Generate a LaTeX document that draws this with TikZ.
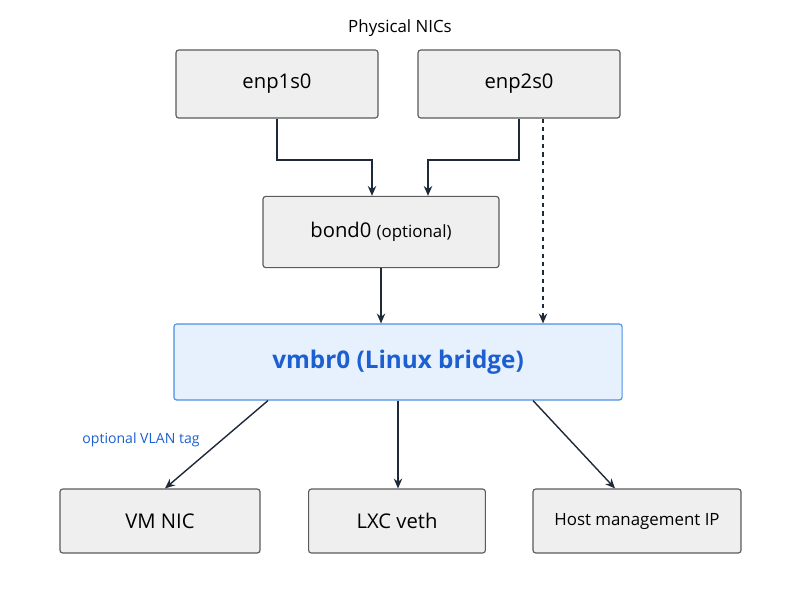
\documentclass[tikz,border=0pt]{standalone}
\usepackage{fontspec}
\setmainfont{Open Sans}
\usetikzlibrary{positioning}
\usetikzlibrary{arrows.meta}
\definecolor{boxfill}{HTML}{EFEFEF}
\definecolor{boxline}{HTML}{5A5A5A}
\definecolor{bridgefill}{HTML}{E7F1FE}
\definecolor{bridgeline}{HTML}{4A90E2}
\definecolor{bridgetext}{HTML}{1C5FD1}
\definecolor{linkcol}{HTML}{1E2A3A}
\tikzset{
        nicbox/.style={draw=boxline, fill=boxfill, rounded corners=2pt, line width=0.8pt, align=center, inner sep=0pt},
        % Physical NICs
        node_nic/.style={nicbox, minimum width=5.05cm, minimum height=1.7cm, font=\Large},
        % Bond
        node_bond/.style={nicbox, minimum width=5.9cm, minimum height=1.78cm, font=\Large},
        % Bridge
        node_bridge/.style={nicbox, draw=bridgeline, fill=bridgefill, text=bridgetext, minimum width=11.2cm, minimum height=1.9cm, font=\LARGE\bfseries},
        % Guests
        node_guest/.style={nicbox, minimum height=1.6cm, font=\Large},
        link/.style={-{Stealth[length=7pt,width=6pt]}, draw=linkcol, line width=1pt}
}
\begin{document}
\begin{tikzpicture}[x=0.025cm, y=-0.025cm]
    \useasboundingbox (0,0) rectangle (800,600);
    \node[font=\large] (title) at (400,28) {Physical NICs};
    \node[node_nic] (enp1) at (277,84) {enp1s0};
    \node[node_nic] (enp2) at (519,84) {enp2s0};
    \node[node_bond] (bond) at (381,232) {bond0 {\large(optional)}};
    \node[node_bridge] (vmbr) at (398,362) {vmbr0 (Linux bridge)};
    \node[node_guest, minimum width=5cm] (vmnic) at (160,521) {VM NIC};
    \node[node_guest, minimum width=4.42cm] (lxc) at (397,521) {LXC veth};
    \node[node_guest, minimum width=5.2cm, font=\large] (host) at (637,521) {Host management IP};
    \node[text=bridgetext, font=\normalsize] (vlan) at (141,440) {optional VLAN tag};

    \coordinate (bendA) at (277,160);
    \coordinate (bendB) at (519,160);
    \draw[link] (enp1.south) -- (bendA) -| ([xshift=-0.225cm]bond.north);
    \draw[link] (enp2.south) -- (bendB) -| ([xshift=1.175cm]bond.north);
    \draw[link, dashed] ([xshift=0.6cm]enp2.south) -- ([xshift=0.6cm]enp2.south |- vmbr.north);
    \draw[link] (bond.south) -- (bond.south |- vmbr.north);
    \draw[link] ([xshift=-3.25cm]vmbr.south) -- ([xshift=0.125cm]vmnic.north);
    \draw[link] (vmbr.south) -- (vmbr.south |- lxc.north);
    \draw[link] ([xshift=3.375cm]vmbr.south) -- ([xshift=-0.55cm]host.north);
\end{tikzpicture}
\end{document}
